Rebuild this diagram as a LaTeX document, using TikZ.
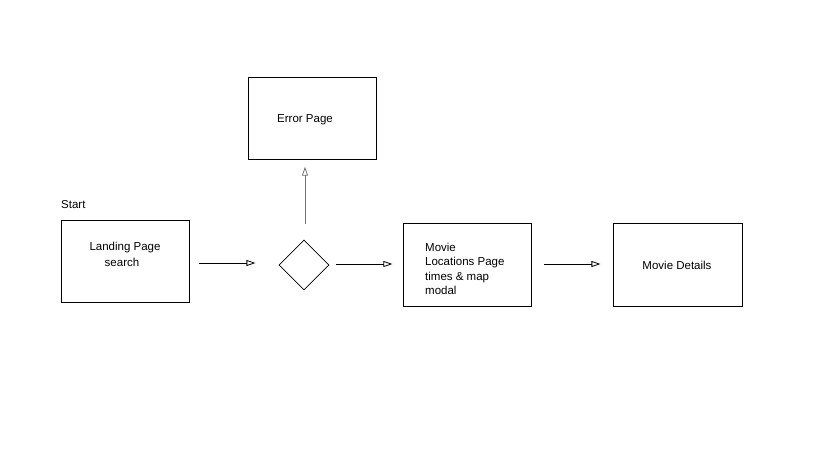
\documentclass[tikz,border=0pt]{standalone}
\usepackage{fontspec}
\setmainfont{Liberation Sans}
\usetikzlibrary{arrows.meta,shapes.geometric}
\begin{document}
\begin{tikzpicture}[x=1pt,y=-1pt,
  box/.style={draw,line width=0.9pt,minimum width=128pt,minimum height=82pt,inner sep=0pt},
  txt/.style={font=\fontsize{11.5}{14.5}\selectfont,inner sep=0pt},
  dec/.style={draw,diamond,line width=0.8pt,minimum width=50pt,minimum height=50pt,inner sep=0pt},
  flow/.style={line width=0.8pt,-{Triangle[open,length=9pt,width=6pt]}}]
\useasboundingbox (0,0) rectangle (833,451);
\node[box] (land) at (125,261) {};
\node[txt,anchor=west] (start) at (61,204.5) {Start};
\node[txt] (landt1) at (125,248) {Landing Page};
\node[txt] (landt2) at (122,262.5) {search};
\node[dec] (dec) at (304,265) {};
\node[box] (err) at (312,118) {};
\node[txt] (errt) at (305,119.5) {Error Page};
\node[box,minimum height=83pt] (loc) at (467,264.5) {};
\node[txt,anchor=north west,align=left] (loct) at (425,242.5) {Movie\\Locations Page\\times \& map\\modal};
\node[box,minimum width=129pt,minimum height=83pt] (det) at (677.5,264.5) {};
\node[txt] (dett) at (677,265) {Movie Details};
\draw[flow] ([yshift=-2pt]land.east) ++(10,0) coordinate (a1s) -- ++(56,0) coordinate (a1e);
\draw[flow] ([xshift=7pt,yshift=1pt]dec.east) coordinate (a2s) -- ++(56,0) coordinate (a2e);
\draw[flow,draw=black!55] ([yshift=16pt]dec.north) ++(1,0) coordinate (a3s) -- ++(0,-57) coordinate (a3e);
\draw[flow] ([xshift=13pt,yshift=0.5pt]loc.east) coordinate (a4s) -- ++(56,0) coordinate (a4e);
\end{tikzpicture}
\end{document}
